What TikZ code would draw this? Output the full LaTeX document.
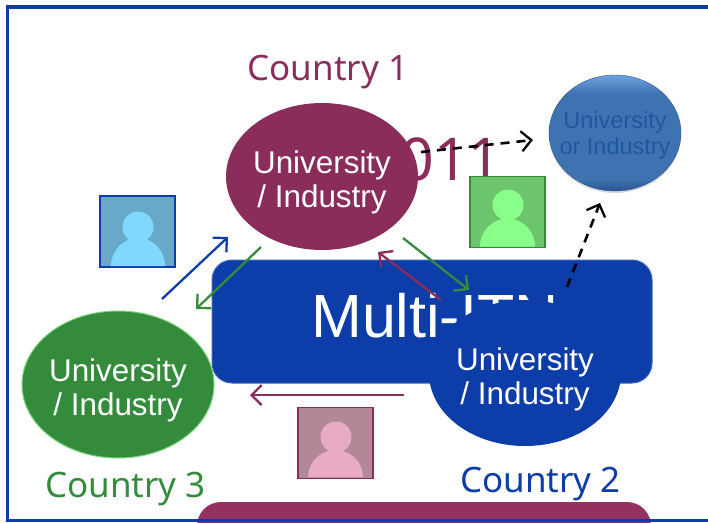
\documentclass[tikz,border=0pt]{standalone}
\usepackage{fontspec}
\setmainfont{Liberation Sans}
\newfontfamily\countryfont{Noto Sans}
\usetikzlibrary{arrows.meta,shadows,shapes.geometric}
\definecolor{itnblue}{HTML}{0C3DA8}
\definecolor{itnmaroon}{HTML}{8B2D5A}
\definecolor{itngreen}{HTML}{358B3C}
\definecolor{orbdark}{HTML}{2A5590}
\definecolor{orbmid}{HTML}{3F72B0}
\definecolor{orblight}{HTML}{6FA3E0}
\definecolor{orbtext}{HTML}{1E58A0}
\definecolor{barmaroon}{HTML}{963060}
\pgfdeclareverticalshading{orbshade}{100bp}{color(0bp)=(orbdark); color(25bp)=(orbdark); color(30bp)=(orbmid); color(67bp)=(orbmid); color(75bp)=(orblight); color(100bp)=(orblight)}
\begin{document}
\begin{tikzpicture}[x=1pt,y=-1pt,
    university/.style ={ellipse, inner xsep = -2pt, inner ysep = 0pt, minimum width=192pt, minimum height=147pt, text=white, align=center, font=\fontsize{31.4}{34}\selectfont},
    country/.style ={font=\countryfont\fontsize{35}{40}\selectfont},
    avatar/.style ={rectangle, inner sep = 0pt, minimum width=75pt, minimum height=71pt, line width=1.6pt},
    head/.style ={circle, inner sep = 0pt, minimum size=31pt},
    link/.style ={line width=2.3pt, -{Straight Barb[length=10pt,width=20pt,line width=2.3pt]}},
    dashlink/.style ={link, black, line width=2.6pt, dash pattern=on 9pt off 7pt}]
   \useasboundingbox (0,0) rectangle (708,522);
   \node[country, text=itnmaroon] (year) at (434,159) {\fontsize{59}{60}\selectfont 2011};
   \node[rectangle, draw=itnblue!80!white, fill=itnblue, line width=1pt, rounded corners=20pt, minimum width=440pt, minimum height=123pt, inner sep=0pt] (multi) at (432,321.5) {};
   \node[text=white, font=\fontsize{61}{61}\selectfont, inner sep=0pt, anchor=base west] (multitext) at (311,337) {Multi-ITN};
   \begin{scope}
     \clip (0,0) rectangle (708,522);
     \node[rectangle, fill=barmaroon, rounded corners=24pt, minimum width=454pt, minimum height=80pt, inner sep=0pt] (bottombox) at (424,542) {};
   \end{scope}
   % the three partners
   \node[university, fill=itnmaroon] (uni1) at (322,176.5) {\rule{0pt}{35pt}University\\/ Industry};
   \node[university, fill=itnblue, minimum height=146pt] (uni2) at (525,373) {\rule{0pt}{35pt}University\\/ Industry};
   \node[university, fill=itngreen, draw=itngreen!60!green!60!white, line width=1pt] (uni3) at (118,384.5) {\rule{0pt}{35pt}University\\/ Industry};
   \node[ellipse, minimum width=132pt, minimum height=116pt, inner xsep=-10pt, inner ysep=0pt, shading=orbshade, draw=orbdark, drop shadow={opacity=0.3,shadow xshift=0pt,shadow yshift=-2pt}, text=orbtext, align=center, font=\fontsize{23.5}{26}\selectfont] (orb) at (615,133) {\rule{0pt}{21pt}University\\or Industry};
   \node[country, text=itnmaroon] (c1) at (328,72) {Country 1};
   \node[country, text=itnblue] (c2) at (540.5,484) {Country 2};
   \node[country, text=itngreen] (c3) at (125.5,489) {Country 3};
   % people
   \node[avatar, draw=itnblue, fill={rgb,255:red,104;green,168;blue,200}] (p1) at (137.5,231.5) {};
   \node[head, fill={rgb,255:red,128;green,216;blue,255}] (h1) at (138,227) {};
   \fill[fill={rgb,255:red,128;green,216;blue,255}] (111,266) arc (180:360:27 and 28);
   \node[avatar, draw=itngreen, fill={rgb,255:red,108;green,196;blue,108}] (p2) at (507.5,212) {};
   \node[head, fill={rgb,255:red,136;green,255;blue,136}] (h2) at (508,205) {};
   \fill[fill={rgb,255:red,136;green,255;blue,136}] (480,246.5) arc (180:360:27.5 and 28);
   \node[avatar, draw=itnmaroon, fill={rgb,255:red,178;green,136;blue,152}] (p3) at (335.5,443) {};
   \node[head, fill={rgb,255:red,232;green,171;blue,195}] (h3) at (336,437) {};
   \fill[fill={rgb,255:red,232;green,171;blue,195}] (308,477) arc (180:360:27.5 and 27);
   % links
   \coordinate (a1) at (162,299);
   \coordinate (a2) at (228,237);
   \coordinate (b1) at (261,247);
   \coordinate (b2) at (196,309);
   \coordinate (d1) at (403,238);
   \coordinate (d2) at (469,290);
   \coordinate (e1) at (441,300);
   \coordinate (e2) at (378,252);
   \coordinate (f1) at (404,395);
   \coordinate (f2) at (250,395);
   \coordinate (g1) at (421,152);
   \coordinate (g2) at (533,140);
   \coordinate (k1) at (567,287);
   \coordinate (k2) at (600,203);
   \draw[link, itnblue] (a1) -- (a2);
   \draw[link, itngreen] (b1) -- (b2);
   \draw[link, itngreen] (d1) -- (d2);
   \draw[link, itnmaroon] (e1) -- (e2);
   \draw[link, itnmaroon] (f1) -- (f2);
   \draw[dashlink] (g1) -- (g2);
   \draw[dashlink] (k1) -- (k2);
   % frame
   \draw[itnblue, line width=3.8pt] (708,7) -- (7.5,7) -- (7.5,520.5) -- (708,520.5);
 \end{tikzpicture}
\end{document}
